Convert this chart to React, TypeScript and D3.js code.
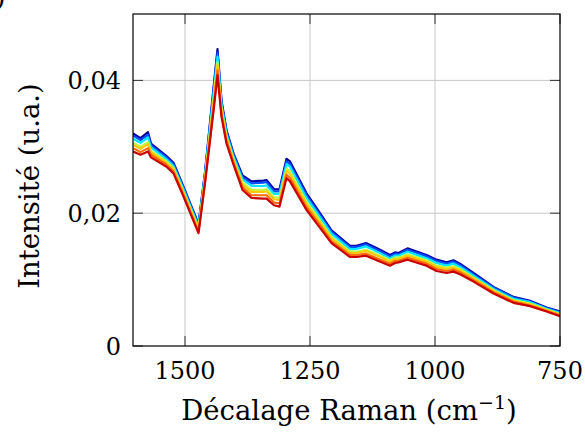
import React from "react";
import * as d3 from "d3";

const wavenumbers = [1604, 1589, 1574, 1568, 1537, 1523, 1503, 1473, 1460, 1442, 1435, 1427, 1417, 1403, 1385, 1367, 1343, 1337, 1322, 1311, 1297, 1290, 1257, 1230, 1207, 1170, 1157, 1138, 1113, 1090, 1080, 1073, 1055, 1017, 997, 977, 963, 950, 923, 883, 843, 810, 777, 750];

const s1 = [0.0320, 0.0313, 0.0322, 0.0305, 0.0286, 0.0276, 0.0240, 0.0184, 0.0262, 0.0396, 0.0447, 0.0370, 0.0325, 0.0290, 0.0257, 0.0248, 0.0249, 0.0250, 0.0236, 0.0236, 0.0282, 0.0278, 0.0230, 0.0200, 0.0174, 0.0151, 0.0151, 0.0155, 0.0146, 0.0137, 0.0141, 0.0140, 0.0147, 0.0137, 0.0130, 0.0126, 0.0129, 0.0124, 0.0110, 0.0089, 0.0074, 0.0068, 0.0058, 0.0052];
const s2 = [0.0317, 0.0310, 0.0318, 0.0302, 0.0284, 0.0274, 0.0238, 0.0182, 0.0260, 0.0392, 0.0442, 0.0367, 0.0323, 0.0288, 0.0254, 0.0245, 0.0246, 0.0247, 0.0233, 0.0233, 0.0278, 0.0274, 0.0227, 0.0197, 0.0172, 0.0149, 0.0149, 0.0153, 0.0144, 0.0135, 0.0139, 0.0138, 0.0145, 0.0135, 0.0128, 0.0124, 0.0127, 0.0122, 0.0108, 0.0088, 0.0073, 0.0067, 0.0057, 0.0051];
const s3 = [0.0312, 0.0306, 0.0314, 0.0299, 0.0281, 0.0271, 0.0236, 0.0180, 0.0257, 0.0386, 0.0436, 0.0363, 0.0319, 0.0285, 0.0251, 0.0241, 0.0241, 0.0242, 0.0229, 0.0229, 0.0274, 0.0270, 0.0223, 0.0194, 0.0169, 0.0146, 0.0146, 0.0150, 0.0141, 0.0132, 0.0136, 0.0136, 0.0142, 0.0132, 0.0125, 0.0121, 0.0124, 0.0119, 0.0106, 0.0086, 0.0071, 0.0066, 0.0056, 0.0050];
const s4 = [0.0306, 0.0300, 0.0307, 0.0294, 0.0278, 0.0268, 0.0232, 0.0177, 0.0253, 0.0378, 0.0427, 0.0357, 0.0315, 0.0281, 0.0246, 0.0235, 0.0235, 0.0236, 0.0224, 0.0223, 0.0267, 0.0263, 0.0217, 0.0189, 0.0164, 0.0142, 0.0142, 0.0145, 0.0137, 0.0129, 0.0133, 0.0133, 0.0138, 0.0129, 0.0121, 0.0118, 0.0120, 0.0116, 0.0103, 0.0084, 0.0069, 0.0064, 0.0055, 0.0048];
const s5 = [0.0303, 0.0297, 0.0304, 0.0292, 0.0276, 0.0266, 0.0231, 0.0175, 0.0251, 0.0374, 0.0423, 0.0354, 0.0313, 0.0279, 0.0243, 0.0232, 0.0232, 0.0233, 0.0221, 0.0220, 0.0264, 0.0259, 0.0214, 0.0186, 0.0162, 0.0140, 0.0140, 0.0143, 0.0135, 0.0127, 0.0131, 0.0131, 0.0136, 0.0127, 0.0119, 0.0116, 0.0118, 0.0114, 0.0102, 0.0083, 0.0068, 0.0063, 0.0054, 0.0048];
const s6 = [0.0298, 0.0292, 0.0298, 0.0288, 0.0273, 0.0263, 0.0228, 0.0172, 0.0248, 0.0366, 0.0415, 0.0349, 0.0309, 0.0276, 0.0239, 0.0227, 0.0227, 0.0227, 0.0216, 0.0215, 0.0258, 0.0253, 0.0209, 0.0182, 0.0158, 0.0137, 0.0137, 0.0139, 0.0131, 0.0124, 0.0128, 0.0128, 0.0133, 0.0124, 0.0116, 0.0113, 0.0115, 0.0111, 0.0099, 0.0081, 0.0067, 0.0061, 0.0053, 0.0046];
const s7 = [0.0293, 0.0288, 0.0293, 0.0284, 0.0270, 0.0260, 0.0225, 0.0170, 0.0245, 0.0360, 0.0408, 0.0345, 0.0305, 0.0273, 0.0235, 0.0223, 0.0222, 0.0222, 0.0212, 0.0210, 0.0253, 0.0248, 0.0205, 0.0178, 0.0155, 0.0134, 0.0134, 0.0136, 0.0128, 0.0121, 0.0125, 0.0126, 0.0130, 0.0121, 0.0113, 0.0110, 0.0112, 0.0108, 0.0097, 0.0079, 0.0065, 0.0060, 0.0052, 0.0045];

const seriesList = [s1, s2, s3, s4, s5, s6, s7];
const seriesColors = ["#0000A0", "#0050FF", "#00E8FF", "#B8FF48", "#FFC800", "#FF6A00", "#C80000"];

const xTicks = [1500, 1250, 1000, 750];
const yTicks = [0, 0.02, 0.04];
const yTickLabels = ["0", "0,02", "0,04"];

const W = 585;
const H = 435;
const left = 133;
const right = 560;
const top = 14;
const bottom = 346;
const FONT = "'DejaVu Serif', serif";

export default function App() {
  const x = d3.scaleLinear().domain([1604, 750]).range([left, right]);
  const y = d3.scaleLinear().domain([0, 0.05]).range([bottom, top]);
  const line = d3
    .line<number>()
    .x((_, i) => x(wavenumbers[i]))
    .y((d) => y(d));
  const tickLen = 10;
  const tickStyle: React.CSSProperties = { fontFamily: FONT, fontSize: 24 };
  const titleStyle: React.CSSProperties = { fontFamily: FONT, fontSize: 27.5 };
  return (
    <svg
      width={W}
      height={H}
      style={{ position: "absolute", left: 0, top: 0, background: "#fff", fontFamily: FONT }}
    >
      <rect x={0} y={0} width={W} height={H} fill="#fff" />
      <text x={-5} y={6} style={titleStyle} fill="#000">)</text>
      {xTicks.filter((t) => t !== 750).map((t) => (
        <line key={"gx" + t} x1={x(t)} x2={x(t)} y1={top} y2={bottom} stroke="#c8c8c8" strokeWidth={1} />
      ))}
      {yTicks.filter((t) => t !== 0).map((t) => (
        <line key={"gy" + t} x1={left} x2={right} y1={y(t)} y2={y(t)} stroke="#c8c8c8" strokeWidth={1} />
      ))}
      {xTicks.map((t) => (
        <g key={"tx" + t}>
          <line x1={x(t)} x2={x(t)} y1={bottom} y2={bottom - tickLen} stroke="#333" strokeWidth={1} />
          <line x1={x(t)} x2={x(t)} y1={top} y2={top + tickLen} stroke="#333" strokeWidth={1} />
        </g>
      ))}
      {yTicks.map((t) => (
        <g key={"ty" + t}>
          <line x1={left} x2={left + tickLen} y1={y(t)} y2={y(t)} stroke="#333" strokeWidth={1} />
          <line x1={right} x2={right - tickLen} y1={y(t)} y2={y(t)} stroke="#333" strokeWidth={1} />
        </g>
      ))}
      <defs>
        <clipPath id="clip">
          <rect x={left} y={top} width={right - left} height={bottom - top} />
        </clipPath>
      </defs>
      <g clipPath="url(#clip)">
        {seriesList.map((s, i) => (
          <path key={i} d={line(s) || ""} fill="none" stroke={seriesColors[i]} strokeWidth={2.2} strokeLinejoin="round" />
        ))}
      </g>
      <rect x={left} y={top} width={right - left} height={bottom - top} fill="none" stroke="#000" strokeWidth={1.2} />
      {xTicks.map((t) => (
        <text key={"lx" + t} x={x(t)} y={379} style={tickStyle} textAnchor="middle" fill="#000">
          {t}
        </text>
      ))}
      {yTicks.map((t, i) => (
        <text key={"ly" + t} x={121} y={y(t) + 9} style={tickStyle} textAnchor="end" fill="#000">
          {yTickLabels[i]}
        </text>
      ))}
      <text x={349} y={420} style={titleStyle} textAnchor="middle" fill="#000">
        Décalage Raman (cm<tspan style={{ fontSize: 19 }} dy={-11}>−1</tspan><tspan dy={11}>)</tspan>
      </text>
      <text transform={`translate(39,186) rotate(-90)`} style={titleStyle} textAnchor="middle" fill="#000">
        Intensité (u.a.)
      </text>
    </svg>
  );
}
